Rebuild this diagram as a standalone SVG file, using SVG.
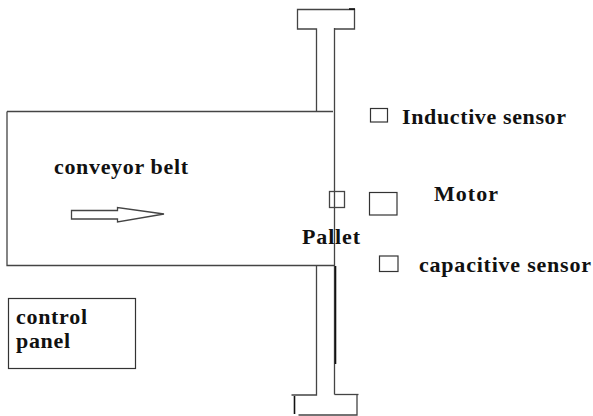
<svg xmlns="http://www.w3.org/2000/svg" width="593" height="416" viewBox="0 0 593 416">
<style>
.l{fill:none;stroke:#444;stroke-width:1.3}
.b{fill:#fff;stroke:#333;stroke-width:1.2}
text{font-family:"Liberation Serif",serif;font-weight:bold;fill:#111;font-size:22px}
</style>
<rect width="593" height="416" fill="#fff"/>
<g id="connectors">
<path class="l" d="M7 111.500H333"/>
<path class="l" d="M7 111.500V265.500H334"/>
<path class="l" d="M334.500 28V394.500"/>
<path class="l" d="M316.500 111V29H297.500V9.500H354.500V29H334.500"/>
<path class="l" d="M316.500 266V395H291.500"/>
<path class="l" d="M334.500 394.500H358.500"/>
<path class="l" d="M298.500 415H357V395"/>
<path d="M335.500 266V364" stroke="#111" stroke-width="1.6" fill="none"/>
<path d="M294.500 396V414" stroke="#111" stroke-width="1.6" fill="none"/>
<path d="M349 9H355" stroke="#111" stroke-width="1.6" fill="none"/>
</g>
<g id="arrow"><path class="l" d="M71.500 210.500H117.500V207.500L164 214L117.500 222V219H71.500Z"/></g>
<g id="inductive"><rect class="b" x="370.500" y="108.500" width="17" height="13.500"/><text x="402" y="124" textLength="164" lengthAdjust="spacing">Inductive sensor</text></g>
<g id="motor"><rect class="b" x="369.500" y="192.500" width="27.500" height="22.500"/><text x="434" y="201" textLength="64" lengthAdjust="spacing">Motor</text></g>
<g id="pallet"><rect class="l" x="329.500" y="191.500" width="15" height="16"/><text x="302" y="244" textLength="58" lengthAdjust="spacing">Pallet</text></g>
<g id="capacitive"><rect class="b" x="379.500" y="256" width="18.500" height="15.500"/><text x="419" y="272" textLength="172" lengthAdjust="spacing">capacitive sensor</text></g>
<g id="belt"><text x="54" y="174" textLength="134" lengthAdjust="spacing">conveyor belt</text></g>
<g id="panel"><rect class="b" x="8.500" y="298.500" width="127" height="70"/><text x="16" y="324" textLength="71" lengthAdjust="spacing">control</text><text x="16" y="348" textLength="54" lengthAdjust="spacing">panel</text></g>
</svg>
